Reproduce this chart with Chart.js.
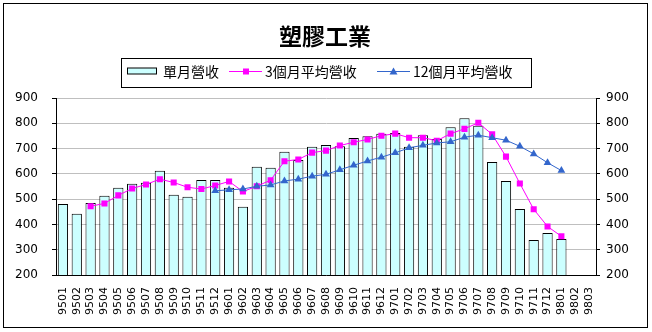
<!DOCTYPE html>
<html>
<head>
<meta charset="utf-8">
<script src="https://cdn.jsdelivr.net/npm/chart.js@4"></script>
<style>
html,body{margin:0;padding:0;background:#fff;}
#wrap{width:652px;height:332px;}
</style>
</head>
<body>
<div id="wrap"><canvas id="c" width="652" height="332"></canvas></div>
<script>
const chartTitle = '塑膠工業';
const seriesNames = ['單月營收', '3個月平均營收', '12個月平均營收'];
const months = ['9501','9502','9503','9504','9505','9506','9507','9508','9509','9510','9511','9512',
  '9601','9602','9603','9604','9605','9606','9607','9608','9609','9610','9611','9612',
  '9701','9702','9703','9704','9705','9706','9707','9708','9709','9710','9711','9712',
  '9801','9802','9803'];
const monthly = [481,442,485,513,545,561,565,612,517,509,576,576,
  545,470,628,624,687,655,707,714,709,742,749,759,
  762,707,753,738,784,820,790,647,572,461,338,366,
  342,null,null];
const avg3 = [null,null,472,483,515,542,558,579,566,547,540,554,
  570,530,551,575,650,657,684,692,712,725,736,751,
  759,743,743,731,759,778,802,756,668,562,460,392,
  353,null,null];
const avg12 = [null,null,null,null,null,null,null,null,null,null,null,533,
  537,540,551,556,572,579,591,598,616,634,651,666,
  683,703,713,722,727,745,753,743,733,709,679,644,
  613,null,null];
const yTicks = [200,300,400,500,600,700,800,900];

const barColor = '#CCFFFF';
const avg3Color = '#FF00FF';
const avg12Color = '#3366CC';

const decor = {
  id: 'decor',
  afterDraw(chart) {
    const ctx = chart.ctx;
    ctx.save();
    ctx.strokeStyle = '#000';
    ctx.lineWidth = 1;
    ctx.strokeRect(3.5, 3.5, 644, 324);
    ctx.fillStyle = '#000';
    ctx.font = 'bold 23px "Noto Sans CJK TC"';
    ctx.textAlign = 'center';
    ctx.textBaseline = 'middle';
    ctx.fillText(chartTitle, 325, 36);
    ctx.strokeRect(121.5, 58.5, 410, 29);
    const cy = 71.5;
    ctx.font = '14px "Noto Sans CJK TC"';
    ctx.textAlign = 'left';
    ctx.fillStyle = barColor;
    ctx.fillRect(127, cy - 3.5, 30, 6);
    ctx.strokeRect(127.5, cy - 3.5, 29, 6);
    ctx.fillStyle = '#000';
    ctx.fillText(seriesNames[0], 163, cy);
    ctx.strokeStyle = avg3Color;
    ctx.beginPath(); ctx.moveTo(229, cy); ctx.lineTo(262, cy); ctx.stroke();
    ctx.fillStyle = avg3Color;
    ctx.fillRect(243, cy - 3, 6, 6);
    ctx.fillStyle = '#000';
    ctx.fillText(seriesNames[1], 265, cy);
    ctx.strokeStyle = avg12Color;
    ctx.beginPath(); ctx.moveTo(377, cy); ctx.lineTo(410, cy); ctx.stroke();
    ctx.fillStyle = avg12Color;
    ctx.beginPath(); ctx.moveTo(393.5, cy - 4); ctx.lineTo(397.5, cy + 3); ctx.lineTo(389.5, cy + 3); ctx.closePath(); ctx.fill();
    ctx.fillStyle = '#000';
    ctx.fillText(seriesNames[2], 413, cy);
    ctx.restore();
  }
};

const bgPlugin = {
  id: 'bg',
  beforeDraw(chart) {
    const ctx = chart.ctx;
    ctx.save();
    ctx.fillStyle = '#fff';
    ctx.fillRect(0, 0, chart.width, chart.height);
    ctx.restore();
  }
};

new Chart(document.getElementById('c'), {
  data: {
    labels: months,
    datasets: [
      {
        type: 'bar', label: seriesNames[0], data: monthly,
        backgroundColor: barColor, borderColor: '#000', borderWidth: 1,
        barPercentage: 0.74, categoryPercentage: 1, order: 3, yAxisID: 'y'
      },
      {
        type: 'line', label: seriesNames[1], data: avg3,
        borderColor: avg3Color, backgroundColor: avg3Color, borderWidth: 1,
        pointStyle: 'rect', pointRadius: 4.3, pointBorderWidth: 0,
        tension: 0, spanGaps: false, order: 2, yAxisID: 'y'
      },
      {
        type: 'line', label: seriesNames[2], data: avg12,
        borderColor: avg12Color, backgroundColor: avg12Color, borderWidth: 1,
        pointStyle: 'triangle', pointRadius: 4.5, pointBorderWidth: 0,
        tension: 0, spanGaps: false, order: 1, yAxisID: 'y'
      }
    ]
  },
  options: {
    responsive: false,
    devicePixelRatio: 1,
    animation: false,
    events: [],
    layout: { padding: { top: 98, left: 0, right: 0, bottom: 0 } },
    plugins: { legend: { display: false }, title: { display: false }, tooltip: { enabled: false } },
    scales: {
      x: {
        type: 'category', offset: true,
        grid: { display: false, drawTicks: false },
        border: { display: true, color: '#000', width: 1 },
        ticks: {
          autoSkip: false, maxRotation: 90, minRotation: 90, padding: 12,
          color: '#000', font: { family: 'DejaVu Sans', size: 11 }
        },
        afterFit(s) { s.height = 57; }
      },
      y: {
        position: 'left', min: 200, max: 900,
        afterBuildTicks(s) { s.ticks = yTicks.map(v => ({ value: v })); },
        grid: { color: '#BFBFBF', tickColor: '#000', tickLength: 4, drawTicks: true },
        border: { display: true, color: '#000', width: 1 },
        ticks: { padding: 14, color: '#000', font: { family: 'DejaVu Sans', size: 12 } },
        afterFit(s) { s.width = 56; }
      },
      y2: {
        position: 'right', min: 200, max: 900,
        afterBuildTicks(s) { s.ticks = yTicks.map(v => ({ value: v })); },
        grid: { drawOnChartArea: false, tickColor: '#000', tickLength: 4, drawTicks: true },
        border: { display: true, color: '#000', width: 1 },
        ticks: { padding: 6, color: '#000', font: { family: 'DejaVu Sans', size: 12 } },
        afterFit(s) { s.width = 56; }
      }
    }
  },
  plugins: [bgPlugin, decor]
});
</script>
</body>
</html>
